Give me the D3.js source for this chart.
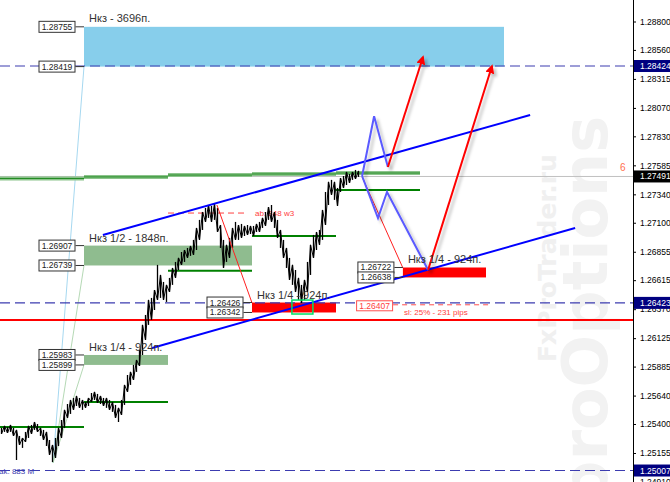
<!DOCTYPE html>
<html><head><meta charset="utf-8">
<script src="https://cdn.jsdelivr.net/npm/d3@7/dist/d3.min.js"></script>
<style>body{margin:0;background:#fff}svg{display:block}</style>
</head><body>
<svg id="c" width="670" height="482"></svg>
<script>
// ---- data ----
const bars = [
[1.25367,1.25316],[1.25384,1.25333],[1.25375,1.25324],[1.25392,1.25333],[1.25367,1.25299],
[1.25350,1.25096],[1.25299,1.25223],[1.25282,1.25198],[1.25333,1.25248],[1.25384,1.25282],
[1.25392,1.25316],[1.25417,1.25350],[1.25400,1.25333],[1.25367,1.25299],[1.25350,1.25265],
[1.25333,1.25214],[1.25265,1.25139],[1.25223,1.25079],[1.25282,1.25113],[1.25367,1.25214],
[1.25434,1.25282],[1.25519,1.25367],[1.25569,1.25451],[1.25603,1.25485],[1.25620,1.25519],
[1.25637,1.25552],[1.25620,1.25536],[1.25603,1.25519],[1.25586,1.25536],[1.25620,1.25552],
[1.25662,1.25586],[1.25671,1.25603],[1.25654,1.25578],[1.25637,1.25569],[1.25620,1.25552],
[1.25620,1.25536],[1.25603,1.25519],[1.25586,1.25502],[1.25561,1.25451],[1.25536,1.25417],
[1.25603,1.25476],[1.25730,1.25561],[1.25814,1.25671],[1.25840,1.25730],[1.25899,1.25772],
[1.25941,1.25840],[1.26026,1.25890],[1.26237,1.25983],[1.26321,1.26110],[1.26448,1.26237],
[1.26465,1.26279],[1.26532,1.26363],[1.26744,1.26448],[1.26659,1.26465],[1.26600,1.26448],
[1.26575,1.26431],[1.26634,1.26515],[1.26718,1.26575],[1.26769,1.26634],[1.26803,1.26701],
[1.26853,1.26744],[1.26870,1.26769],[1.26887,1.26803],[1.26904,1.26820],[1.26955,1.26828],
[1.27056,1.26870],[1.27124,1.26955],[1.27191,1.27039],[1.27225,1.27107],[1.27250,1.27141],
[1.27242,1.27107],[1.27259,1.27124],[1.27225,1.27022],[1.27081,1.26887],[1.26955,1.26718],
[1.26913,1.26769],[1.26972,1.26803],[1.27056,1.26887],[1.27107,1.26955],[1.27081,1.26955],
[1.27090,1.26972],[1.27073,1.26988],[1.27081,1.26997],[1.27073,1.27005],[1.27073,1.26988],
[1.27090,1.27022],[1.27107,1.27022],[1.27141,1.27056],[1.27191,1.27073],[1.27233,1.27124],
[1.27250,1.27107],[1.27191,1.27056],[1.27124,1.26972],[1.27039,1.26887],[1.26955,1.26803],
[1.26887,1.26718],[1.26803,1.26617],[1.26744,1.26575],[1.26701,1.26515],[1.26634,1.26448],
[1.26575,1.26423],[1.26617,1.26448],[1.26769,1.26515],[1.26913,1.26659],[1.26997,1.26803],
[1.27022,1.26870],[1.27039,1.26913],[1.27208,1.26955],[1.27360,1.27081],[1.27445,1.27250],
[1.27462,1.27335],[1.27445,1.27293],[1.27394,1.27242],[1.27478,1.27360],[1.27495,1.27394],
[1.27529,1.27419],[1.27512,1.27436],[1.27529,1.27462],[1.27546,1.27470],[1.27538,1.27487]
];
const tickValues = [1.28800,1.28560,1.28315,1.28070,1.27830,1.27585,1.27340,1.27100,1.26855,1.26615,1.26370,1.26125,1.25885,1.25640,1.25400,1.25155,1.24910];
const markedPrices = [1.28424,1.26423,1.25007];
const currentPrice = 1.27491;
const periodBounds = [0,28,56,84,112,140];
const periodLevels = [1.25375,1.25586,1.26695,1.26988,1.27377];
const topLevels = [1.27474,1.27487,1.27503,1.27512,1.27520];
const zoneNames = ["Нкз - 3696п.","Нкз 1/2 - 1848п.","Нкз 1/4 - 924п.","Нкз 1/4 - 924п.","Нкз 1/4 - 924п."];
const zoneStart = [28,28,28,84,134.3];
const zoneEnd = [168,84,56,112,162];
const zoneHigh = [1.28755,1.26907,1.25983,1.26426,1.26722];
const zoneLow = [1.28419,1.26739,1.25899,1.26342,1.26638];
const zoneFill = ["#87ceeb","#8fbc8f","#8fbc8f","#ff0000","#ff0000"];
const channelUpper = [[34.3,1.26996],[176.7,1.28010]];
const channelLower = [[50.7,1.26042],[191.7,1.27056]];
const zigUp = [[120.7,1.27495],[124.7,1.28000],[129.3,1.27571]];
const zigDown = [[120.7,1.27495],[126,1.27140],[129,1.27360],[142.7,1.26701]];
const arrowA = [[129.3,1.27571],[141,1.28500]];
const arrowB = [[142.7,1.26701],[164,1.28424]];
const thinRedA = [[72.3,1.27250],[84,1.26423]];
const thinRedB = [[120.7,1.27487],[134.3,1.26718]];
const fanOrigin = [17.67,1.25071];
const fanTargets = [[28,1.28419],[28,1.26739],[28,1.25899]];
const fanColors = ["#a6d8f0","#b5d9b5","#b5d9b5"];
const supportLevel = 1.26279;
const abLevel = [56,82.3,1.27182];
const slLevel = 1.26407;
const greenBox = [97.3,104.3,1.26447,1.26329];

// ---- scales ----
const W = 670, H = 482, axisX = 633;
const x = d3.scaleLinear().domain([0,211]).range([0,633]);
const y = d3.scaleLinear().domain([1.24910,1.28800]).range([482,21.5]);
const svg = d3.select("#c");
const font = "'Liberation Sans', Arial, sans-serif";
const fmt = d3.format(".5f");

const defs = svg.append("defs");
const sh = defs.append("filter").attr("id","sh").attr("x","-20%").attr("y","-20%").attr("width","150%").attr("height","150%");
sh.append("feDropShadow").attr("dx",3).attr("dy",3).attr("stdDeviation",1.5).attr("flood-color","#000").attr("flood-opacity",0.25);
defs.append("marker").attr("id","ah").attr("viewBox","0 0 10 10").attr("refX",8).attr("refY",5)
  .attr("markerWidth",4.5).attr("markerHeight",4.5).attr("orient","auto")
  .append("path").attr("d","M0,0L10,5L0,10z").attr("fill","#ff0000");

// watermark
svg.append("text").attr("transform","translate(607,505) rotate(-90)")
  .attr("font-family","'DejaVu Sans', sans-serif").attr("font-weight","bold").attr("font-size",62)
  .attr("fill","#f2f2f2").text("proOptions");
svg.append("text").attr("transform","translate(556,362) rotate(-90)")
  .attr("font-family","'DejaVu Sans', sans-serif").attr("font-weight","bold").attr("font-size",25)
  .attr("fill","#f0f0f0").text("FxProTrader.ru");

const line = d3.line().x(d=>x(d[0])).y(d=>y(d[1]));

// zones
zoneNames.forEach((n,i)=>{
  const x0 = x(zoneStart[i]), x1 = x(zoneEnd[i]);
  svg.append("rect").attr("x",x0).attr("y",y(zoneHigh[i])).attr("width",x1-x0)
    .attr("height",y(zoneLow[i])-y(zoneHigh[i])).attr("fill",zoneFill[i]);
});

// fan lines
fanTargets.forEach((t,i)=>{
  svg.append("path").attr("d",line([fanOrigin,t])).attr("stroke",fanColors[i]).attr("stroke-width",1).attr("fill","none");
});

// horizontal lines
svg.append("line").attr("x1",0).attr("x2",axisX).attr("y1",y(currentPrice)).attr("y2",y(currentPrice))
  .attr("stroke","#c0c0c0").attr("stroke-width",1);
markedPrices.forEach(p=>{
  svg.append("line").attr("x1",0).attr("x2",axisX).attr("y1",y(p)).attr("y2",y(p))
    .attr("stroke","#3c3cb0").attr("stroke-width",1.2).attr("stroke-dasharray","10,5");
});
svg.append("line").attr("x1",0).attr("x2",axisX).attr("y1",y(supportLevel)).attr("y2",y(supportLevel))
  .attr("stroke","#ff0000").attr("stroke-width",2);

// period green levels
periodLevels.forEach((p,i)=>{
  svg.append("line").attr("x1",x(periodBounds[i])).attr("x2",x(periodBounds[i+1]))
    .attr("y1",y(p)).attr("y2",y(p)).attr("stroke","#008000").attr("stroke-width",2);
});
topLevels.forEach((p,i)=>{
  svg.append("line").attr("x1",x(periodBounds[i])).attr("x2",x(periodBounds[i+1]))
    .attr("y1",y(p)).attr("y2",y(p)).attr("stroke","#8cc48c").attr("stroke-width",4);
  svg.append("line").attr("x1",x(periodBounds[i])).attr("x2",x(periodBounds[i+1]))
    .attr("y1",y(p)).attr("y2",y(p)).attr("stroke","#208a20").attr("stroke-width",1);
});

// ab dashed
svg.append("line").attr("x1",x(abLevel[0])).attr("x2",x(abLevel[1])).attr("y1",y(abLevel[2])).attr("y2",y(abLevel[2]))
  .attr("stroke","#ff4040").attr("stroke-width",1).attr("stroke-dasharray","6,4");
svg.append("text").attr("x",x(85)).attr("y",y(abLevel[2])+3).attr("font-family",font).attr("font-size",8)
  .attr("fill","#ff4040").text("ab: 848 w3");

// bars
svg.append("g").selectAll("line").data(bars).join("line")
  .attr("x1",(d,i)=>x(i+0.5)).attr("x2",(d,i)=>x(i+0.5))
  .attr("y1",d=>y(d[0])).attr("y2",d=>y(d[1])).attr("stroke","#000").attr("stroke-width",1.3);
svg.append("path").attr("d",d3.line().x((d,i)=>x(i+0.5)).y((d,i)=>y(i%2?d[0]:d[1]))(bars))
  .attr("fill","none").attr("stroke","#000").attr("stroke-width",1);

// thin red lines
[thinRedA,thinRedB].forEach(l=>svg.append("path").attr("d",line(l)).attr("stroke","#ff2020").attr("stroke-width",1).attr("fill","none"));

// channel
[channelUpper,channelLower].forEach(l=>svg.append("path").attr("d",line(l)).attr("stroke","#0000ff").attr("stroke-width",2).attr("fill","none"));

// zigzags
[zigUp,zigDown].forEach(l=>svg.append("path").attr("d",line(l)).attr("stroke","#5a5aff").attr("stroke-width",2)
  .attr("fill","none").attr("filter","url(#sh)"));
// arrows
[arrowA,arrowB].forEach(l=>svg.append("path").attr("d",line(l)).attr("stroke","#ff0000").attr("stroke-width",2)
  .attr("fill","none").attr("marker-end","url(#ah)").attr("filter","url(#sh)"));

// green box
svg.append("rect").attr("x",x(greenBox[0])).attr("y",y(greenBox[2])).attr("width",x(greenBox[1])-x(greenBox[0]))
  .attr("height",y(greenBox[3])-y(greenBox[2])).attr("fill","none").attr("stroke","#00dd66").attr("stroke-width",1.5);

// zone labels
zoneNames.forEach((n,i)=>{
  const x0 = x(zoneStart[i]);
  const bx = x0-45.5;
  [zoneHigh[i],zoneLow[i]].forEach(p=>{
    const yy = y(p);
    svg.append("line").attr("x1",bx+37).attr("x2",x0).attr("y1",yy).attr("y2",yy).attr("stroke","#333").attr("stroke-width",1);
    svg.append("rect").attr("x",bx+0.5).attr("y",yy-5.5).attr("width",36).attr("height",11)
      .attr("fill","#fff").attr("stroke","#333").attr("stroke-width",1);
    svg.append("text").attr("x",bx+18.5).attr("y",yy+3).attr("text-anchor","middle")
      .attr("font-family",font).attr("font-size",8.5).attr("fill","#222").text(fmt(p));
  });
  svg.append("text").attr("x",x0+5).attr("y",y(zoneHigh[i])-(i===0?5:4)).attr("font-family",font)
    .attr("font-size",11).attr("fill","#333").text(n);
});

// stop-loss label
{
  const yy = y(slLevel), bx = x(118.7);
  svg.append("line").attr("x1",bx+37).attr("x2",bx+135).attr("y1",yy).attr("y2",yy)
    .attr("stroke","#ff5050").attr("stroke-width",1).attr("stroke-dasharray","5,4");
  svg.append("rect").attr("x",bx+0.5).attr("y",yy-4).attr("width",36).attr("height",10)
    .attr("fill","#fff").attr("stroke","#ff5050").attr("stroke-width",1);
  svg.append("text").attr("x",bx+18.5).attr("y",yy+4.5).attr("text-anchor","middle")
    .attr("font-family",font).attr("font-size",8.5).attr("fill","#ff4040").text(fmt(slLevel));
  svg.append("text").attr("x",bx+48).attr("y",yy+10).attr("font-family",font).attr("font-size",8)
    .attr("fill","#ff4040").text("sl: 25% - 231 pips");
}

// bottom-left label
svg.append("text").attr("x",-1).attr("y",y(1.25007)+3).attr("font-family",font).attr("font-size",8)
  .attr("fill","#3c3cb0").text("ak: 883 M");

// axis
svg.append("rect").attr("x",axisX).attr("y",0).attr("width",W-axisX).attr("height",H).attr("fill","#fff");
const ax = svg.append("g").attr("transform",`translate(${axisX},0)`)
  .call(d3.axisRight(y).tickValues(tickValues).tickSize(3).tickSizeOuter(0).tickPadding(4).tickFormat(fmt));
ax.select(".domain").remove();
ax.selectAll("text").attr("font-family",font).attr("font-size",8.5).attr("fill","#000");
svg.append("line").attr("x1",axisX+0.5).attr("x2",axisX+0.5).attr("y1",0).attr("y2",H).attr("stroke","#000");
// marked labels
markedPrices.concat([currentPrice]).forEach(p=>{
  const yy = y(p);
  svg.append("rect").attr("x",axisX+1).attr("y",yy-6).attr("width",W-axisX).attr("height",12)
    .attr("fill", p===currentPrice?"#000":"#000080");
  svg.append("text").attr("x",axisX+7).attr("y",yy+3).attr("font-family",font).attr("font-size",8.5)
    .attr("fill","#fff").text(fmt(p));
});
svg.append("text").attr("x",620).attr("y",y(currentPrice)-5).attr("font-family",font).attr("font-size",10)
  .attr("fill","#ff7050").text("6");
</script>
</body></html>
